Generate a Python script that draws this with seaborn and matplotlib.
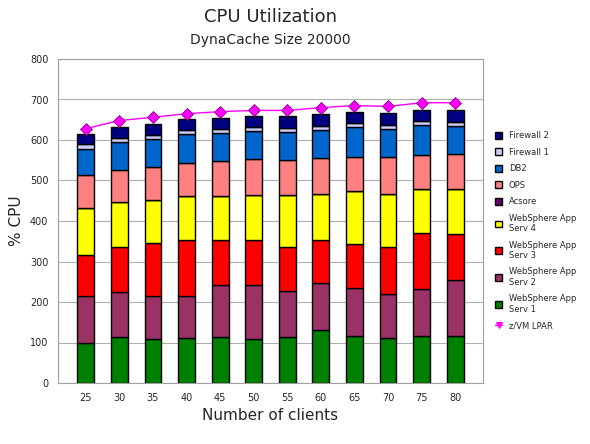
import matplotlib
matplotlib.use("Agg")
import matplotlib.pyplot as plt
import seaborn as sns
import numpy as np

clients = ["25", "30", "35", "40", "45", "50", "55", "60", "65", "70", "75", "80"]
was1 = [100, 113, 108, 110, 113, 108, 113, 132, 115, 111, 115, 115]
was2 = [115, 111, 106, 106, 130, 135, 113, 114, 119, 109, 116, 139]
was3 = [100, 113, 131, 136, 111, 109, 109, 108, 109, 117, 139, 113]
was4 = [117, 111, 108, 110, 108, 113, 130, 113, 132, 130, 110, 112]
acsore = [0, 0, 0, 0, 0, 0, 0, 0, 0, 0, 0, 0]
ops = [81, 79, 81, 80, 85, 87, 85, 88, 84, 90, 84, 87]
db2 = [65, 69, 69, 74, 71, 70, 70, 70, 74, 70, 74, 69]
fw1 = [12, 10, 10, 9, 10, 10, 10, 10, 9, 10, 9, 10]
fw2 = [25, 26, 27, 26, 27, 28, 30, 29, 28, 30, 28, 30]
zvm_lpar = [628, 648, 656, 665, 670, 673, 673, 680, 685, 683, 692, 692]

series = [
    ("WebSphere App\nServ 1", was1, "#008000"),
    ("WebSphere App\nServ 2", was2, "#993366"),
    ("WebSphere App\nServ 3", was3, "#ff0000"),
    ("WebSphere App\nServ 4", was4, "#ffff00"),
    ("Acsore", acsore, "#660066"),
    ("OPS", ops, "#ff8080"),
    ("DB2", db2, "#0066cc"),
    ("Firewall 1", fw1, "#ccccff"),
    ("Firewall 2", fw2, "#000080"),
]

sns.set_style("white")
fig = plt.figure(figsize=(5.9, 4.44), dpi=100)
ax = fig.add_axes([58 / 590, 61 / 444, 425 / 590, 324 / 444])

bottom = np.zeros(len(clients))
for name, vals, col in series:
    sns.barplot(x=clients, y=vals, bottom=bottom, color=col, saturation=1, width=0.5,
                edgecolor="black", linewidth=1, ax=ax, label=name)
    bottom += np.array(vals)

sns.pointplot(x=clients, y=zvm_lpar, color="#ff00ff", markers="v", linestyles="-",
              ax=ax, label="z/VM LPAR", markersize=5, linewidth=1)
ax.plot(range(len(clients)), zvm_lpar, linestyle="none", marker="D", markersize=6,
        markerfacecolor="#ff00ff", markeredgecolor="#880088", markeredgewidth=0.6)

ax.set_ylim(0, 800)
ax.set_yticks(range(0, 801, 100))
ax.grid(axis="y", color="#b0b0b0", linewidth=0.8)
ax.set_axisbelow(True)
for s in ax.spines.values():
    s.set_color("#a0a0a0")
ax.tick_params(labelsize=7)
ax.set_xlabel("Number of clients", fontsize=11)
ax.set_ylabel("% CPU", fontsize=11)

fig.text(0.5 * (58 + 483) / 590, 1 - 17 / 444, "CPU Utilization", ha="center", va="center", fontsize=13)
fig.text(0.5 * (58 + 483) / 590, 1 - 40 / 444, "DynaCache Size 20000", ha="center", va="center", fontsize=10)

h, l = ax.get_legend_handles_labels()
ax.legend(h[::-1], l[::-1], loc="center left", bbox_to_anchor=(1.01, 0.47), frameon=False,
          fontsize=6, handlelength=0.9, handleheight=0.9, labelspacing=0.9)

fig.savefig("out.png", dpi=100)
